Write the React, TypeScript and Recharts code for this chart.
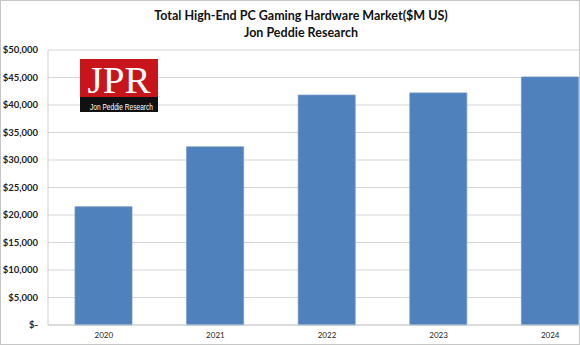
import { BarChart, Bar, XAxis, YAxis, CartesianGrid } from "recharts";

const years = ["2020", "2021", "2022", "2023", "2024"];
const marketValues = [21500, 32400, 41800, 42200, 45100];
const yTicks = [0, 5000, 10000, 15000, 20000, 25000, 30000, 35000, 40000, 45000, 50000];

const data = years.map((year, i) => ({ year, value: marketValues[i] }));

const fmtDollar = (v: number) => (v === 0 ? "$-" : `$${v.toLocaleString("en-US")}`);

function Logo() {
  return (
    <svg width={80} height={58} style={{ position: "absolute", left: 80, top: 59, overflow: "visible" }}>
      <rect x={0} y={0} width={78} height={39} fill="#c8141b" />
      <rect x={0} y={38} width={78} height={15} fill="#111" />
      <text x={39} y={34} textAnchor="middle" fill="#fff" fontSize={38}
        fontFamily="'Liberation Serif', 'DejaVu Serif', serif" textLength={63} lengthAdjust="spacingAndGlyphs">
        JPR
      </text>
      <text x={10} y={50.5} fill="#fff" fontSize={9}
        fontFamily="'Liberation Sans Narrow', 'Liberation Sans', sans-serif" textLength={63} lengthAdjust="spacingAndGlyphs">
        Jon Peddie Research
      </text>
    </svg>
  );
}

export default function App() {
  return (
    <div style={{ position: "fixed", left: 0, top: 0, width: 580, height: 345, overflow: "hidden",
      background: "#fff", fontFamily: "Lato, 'Open Sans', sans-serif" }}>
      <div style={{ position: "absolute", left: 0, top: 0, width: 578, height: 343, border: "1px solid #c6c6c6", zIndex: 3, pointerEvents: "none" }} />
      <div style={{ position: "absolute", left: 0, top: 8, width: 602, textAlign: "center", fontWeight: 700, fontSize: 12.5, lineHeight: "16.5px", color: "#111" }}>
        <div>Total High-End PC Gaming Hardware Market($M US)</div>
        <div>Jon Peddie Research</div>
      </div>
      <BarChart width={620} height={345} data={data} margin={{ top: 50, right: 14, bottom: 0, left: 0 }}>
        <CartesianGrid vertical={false} stroke="#d6d6d6" strokeWidth={1.2} />
        <XAxis dataKey="year" height={20} tickSize={0} tickMargin={7} axisLine={{ stroke: "#cfcfcf" }} tickLine={false}
          tick={{ fontSize: 8, fill: "#222", fontFamily: "Lato, sans-serif" }} />
        <YAxis width={48} domain={[0, 50000]} ticks={yTicks} tickFormatter={fmtDollar} interval={0}
          tickSize={0} tickMargin={10} axisLine={{ stroke: "#cfcfcf" }} tickLine={false}
          tick={{ fontSize: 9.5, fontWeight: 700, fill: "#222", fontFamily: "Lato, sans-serif" }} />
        <Bar dataKey="value" fill="#4f81bd" stroke="#6f97c8" strokeWidth={0.8} barSize={57} isAnimationActive={false} />
      </BarChart>
      <Logo />
    </div>
  );
}
